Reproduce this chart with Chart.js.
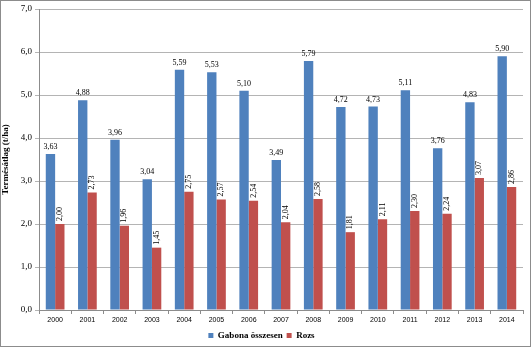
<!DOCTYPE html>
<html>
<head>
<meta charset="utf-8">
<script src="https://cdn.jsdelivr.net/npm/chart.js@4/dist/chart.umd.min.js"></script>
<style>
  html, body { margin: 0; padding: 0; background: #fff; }
  #wrap { width: 531px; height: 347px; position: relative; }
</style>
</head>
<body>
<div id="wrap"><canvas id="c" width="531" height="347"></canvas></div>
<script>
const years = ["2000","2001","2002","2003","2004","2005","2006","2007","2008","2009","2010","2011","2012","2013","2014"];
const gabona = [3.63, 4.88, 3.96, 3.04, 5.59, 5.53, 5.10, 3.49, 5.79, 4.72, 4.73, 5.11, 3.76, 4.83, 5.90];
const rozs = [2.00, 2.73, 1.96, 1.45, 2.75, 2.57, 2.54, 2.04, 2.58, 1.81, 2.11, 2.30, 2.24, 3.07, 2.86];
const yTicks = [0, 1, 2, 3, 4, 5, 6, 7];

const fmt = v => v.toFixed(2).replace(".", ",");

// outer frame like the spreadsheet chart area
const framePlugin = {
  id: "frame",
  beforeDraw(chart) {
    const ctx = chart.ctx;
    ctx.save();
    ctx.fillStyle = "#fff";
    ctx.fillRect(0, 0, chart.width, chart.height);
    ctx.strokeStyle = "#8c8c8c";
    ctx.lineWidth = 1;
    ctx.strokeRect(0.5, 0.5, chart.width - 1, chart.height - 1);
    ctx.restore();
  }
};

// value labels: blue ones flat, red ones turned upright
const labelPlugin = {
  id: "valueLabels",
  afterDatasetsDraw(chart) {
    const ctx = chart.ctx;
    ctx.save();
    ctx.font = "8px 'Liberation Serif'";
    ctx.fillStyle = "#000";
    chart.data.datasets.forEach((ds, i) => {
      const meta = chart.getDatasetMeta(i);
      meta.data.forEach((bar, j) => {
        const txt = fmt(ds.data[j]);
        if (i === 0) {
          ctx.textAlign = "center";
          ctx.textBaseline = "bottom";
          ctx.fillText(txt, bar.x, bar.y - 3);
        } else {
          ctx.save();
          ctx.translate(bar.x, bar.y - 3);
          ctx.rotate(-Math.PI / 2);
          ctx.textAlign = "left";
          ctx.textBaseline = "middle";
          ctx.fillText(txt, 0, 0);
          ctx.restore();
        }
      });
    });
    ctx.restore();
  }
};

new Chart(document.getElementById("c"), {
  type: "bar",
  data: {
    labels: years,
    datasets: [
      { label: "Gabona összesen", data: gabona, backgroundColor: "#4f81bd" },
      { label: "Rozs", data: rozs, backgroundColor: "#c0504d" }
    ]
  },
  options: {
    responsive: false,
    animation: false,
    layout: { padding: { left: 0, top: 9, right: 8, bottom: -3 } },
    datasets: { bar: { categoryPercentage: 0.58, barPercentage: 1 } },
    plugins: {
      legend: {
        position: "bottom",
        labels: {
          boxWidth: 5, boxHeight: 5, padding: 4, color: "#000",
          font: { family: "'Liberation Serif'", size: 9, weight: "bold" }
        }
      },
      tooltip: { enabled: false }
    },
    scales: {
      x: {
        grid: { drawOnChartArea: false, drawTicks: true, tickLength: 4, color: "#8c8c8c", offset: true },
        border: { color: "#8c8c8c" },
        ticks: { color: "#000", font: { family: "'Liberation Sans'", size: 7 }, padding: 2 },
        afterFit(s) { s.height = 17; }
      },
      y: {
        min: 0, max: 7,
        afterBuildTicks(s) { s.ticks = yTicks.map(v => ({ value: v })); },
        grid: { color: "#b4b4b4", drawTicks: true, tickLength: 4 },
        border: { color: "#8c8c8c" },
        ticks: {
          color: "#000", padding: 3,
          font: { family: "'Liberation Serif'", size: 9 },
          callback: v => v.toFixed(1).replace(".", ",")
        },
        title: {
          display: true, text: "Termésátlag (t/ha)", color: "#000",
          font: { family: "'Liberation Serif'", size: 9, weight: "bold" },
          padding: { top: 0, bottom: 2 }
        },
        afterFit(s) { s.width = 39; }
      }
    }
  },
  plugins: [framePlugin, labelPlugin]
});
</script>
</body>
</html>
